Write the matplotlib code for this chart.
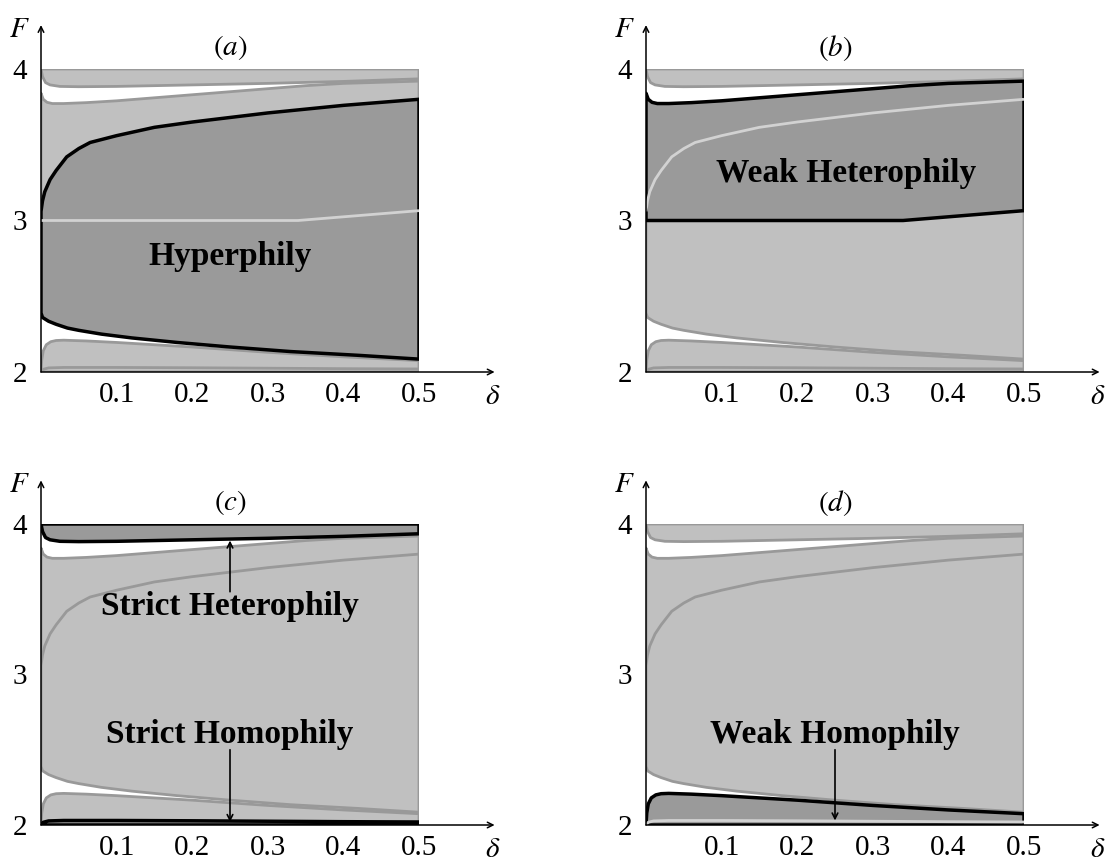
import numpy as np
import matplotlib.pyplot as plt
from matplotlib.patches import Polygon

plt.rcParams['font.family'] = ['Liberation Serif', 'DejaVu Serif']
plt.rcParams['mathtext.fontset'] = 'stix'

# boundary curves, F as a function of delta
delta_A = [0, 0.002, 0.006, 0.012, 0.025, 0.05, 0.1, 0.2, 0.3, 0.4, 0.5]
F_A = [4.0, 3.95, 3.91, 3.895, 3.885, 3.883, 3.885, 3.895, 3.905, 3.918, 3.935]

delta_B = [0, 0.003, 0.008, 0.015, 0.03, 0.06, 0.1, 0.15, 0.2, 0.25, 0.3, 0.35, 0.4, 0.5]
F_B = [3.84, 3.8, 3.78, 3.772, 3.772, 3.778, 3.79, 3.81, 3.83, 3.85, 3.87, 3.89, 3.905, 3.92]

delta_U = [0, 0.002, 0.005, 0.012, 0.02, 0.034, 0.05, 0.065, 0.1, 0.15, 0.2, 0.3, 0.4, 0.5]
F_U = [3.06, 3.13, 3.19, 3.27, 3.33, 3.42, 3.475, 3.515, 3.56, 3.615, 3.65, 3.71, 3.76, 3.8]

delta_W = [0, 0.34, 0.5]
F_W = [3.0, 3.0, 3.065]

delta_L = [0, 0.002, 0.01, 0.02, 0.035, 0.05, 0.08, 0.12, 0.18, 0.25, 0.33, 0.42, 0.5]
F_L = [2.39, 2.36, 2.335, 2.315, 2.29, 2.275, 2.25, 2.225, 2.195, 2.165, 2.135, 2.11, 2.085]

delta_C = [0, 0.001, 0.003, 0.007, 0.013, 0.02, 0.03, 0.06, 0.1, 0.15, 0.2, 0.3, 0.4, 0.5]
F_C = [2.0, 2.08, 2.14, 2.18, 2.2, 2.208, 2.21, 2.205, 2.195, 2.18, 2.165, 2.13, 2.1, 2.075]

delta_S = [0, 0.003, 0.01, 0.03, 0.1, 0.2, 0.3, 0.4, 0.5]
F_S = [2.0, 2.018, 2.027, 2.03, 2.03, 2.028, 2.025, 2.022, 2.02]

delta_edge = [0, 0.5]
F_top = [4, 4]
F_bottom = [2, 2]

x_ticks = [0.1, 0.2, 0.3, 0.4, 0.5]
x_ticklabels = ['0.1', '0.2', '0.3', '0.4', '0.5']
y_ticks = [2, 3, 4]
y_ticklabels = ['2', '3', '4']

LIGHT = '#c0c0c0'
DARK = '#9a9a9a'
EDGE = '#999999'
PALE = '#d2d2d2'

# region -> (upper curve, lower curve)
regions = {
    'whet': ((delta_B, F_B), (delta_W, F_W)),
    'hyper': ((delta_U, F_U), (delta_L, F_L)),
    'shet': ((delta_edge, F_top), (delta_A, F_A)),
    'whom': ((delta_C, F_C), (delta_edge, F_bottom)),
    'shom': ((delta_S, F_S), (delta_edge, F_bottom)),
}
order = ['whet', 'hyper', 'shet', 'whom', 'shom']


def region_xy(name):
    (xu, yu), (xl, yl) = regions[name]
    x = np.concatenate([xu, xl[::-1]])
    y = np.concatenate([yu, yl[::-1]])
    return np.column_stack([x, y])


panels = [
    dict(pos=[41, 69, 372], title='$(a)$', dark=['hyper'], pale=(delta_W, F_W),
         labels=[('Hyperphily', 0.25, 2.76)], arrows=[]),
    dict(pos=[646, 69, 372], title='$(b)$', dark=['whet'], pale=(delta_U, F_U),
         labels=[('Weak Heterophily', 0.265, 3.31)], arrows=[]),
    dict(pos=[41, 524, 825], title='$(c)$', dark=['shet', 'shom'], pale=None,
         labels=[('Strict Heterophily', 0.25, 3.45), ('Strict Homophily', 0.25, 2.6)],
         arrows=[((0.25, 3.55), (0.25, 3.89)), ((0.25, 2.5), (0.25, 2.02))]),
    dict(pos=[646, 524, 825], title='$(d)$', dark=['whom'], pale=(delta_S, F_S),
         labels=[('Weak Homophily', 0.25, 2.6)],
         arrows=[((0.25, 2.5), (0.25, 2.03))]),
]

W, H = 1109, 861
fig = plt.figure(figsize=(W / 100, H / 100), dpi=100)

for p in panels:
    left, top, bottom = p['pos']
    ax = fig.add_axes([left / W, 1 - bottom / H, 378 / W, (bottom - top) / H])
    ax.set_xlim(0, 0.5)
    ax.set_ylim(2, 4)
    for s in ax.spines.values():
        s.set_visible(False)
    ax.patch.set_visible(False)

    for name in order:
        if name in p['dark']:
            continue
        ax.add_patch(Polygon(region_xy(name), closed=True, facecolor=LIGHT,
                             edgecolor=EDGE, lw=2.0, joinstyle='round', zorder=2))
    for name in p['dark']:
        ax.add_patch(Polygon(region_xy(name), closed=True, facecolor=DARK,
                             edgecolor='black', lw=2.5, joinstyle='round', zorder=3))
    if p['pale'] is not None:
        ax.plot(p['pale'][0], p['pale'][1], color=PALE, lw=2.0, zorder=4,
                solid_capstyle='butt')

    # axes with arrows
    ax.annotate('', xy=(0, 4.29), xytext=(0, 2), annotation_clip=False,
                arrowprops=dict(arrowstyle='->', lw=1.1, color='black',
                                shrinkA=0, shrinkB=0), zorder=5)
    ax.annotate('', xy=(0.6, 2), xytext=(0, 2), annotation_clip=False,
                arrowprops=dict(arrowstyle='->', lw=1.1, color='black',
                                shrinkA=0, shrinkB=0), zorder=5)
    ax.text(-0.028, 4.26, '$F$', fontsize=21, ha='center', va='center')
    ax.text(0.598, 1.835, r'$\delta$', fontsize=21, ha='center', va='center')
    ax.text(0.25, 4.14, p['title'], fontsize=21, ha='center', va='center')

    ax.set_xticks(x_ticks)
    ax.set_xticklabels(x_ticklabels)
    ax.set_yticks(y_ticks)
    ax.set_yticklabels(y_ticklabels)
    ax.tick_params(length=0, labelsize=21)
    ax.tick_params(axis='x', pad=7)
    ax.tick_params(axis='y', pad=10)

    for text, x, y in p['labels']:
        ax.text(x, y, text, fontsize=24, fontweight='bold', ha='center',
                va='center', zorder=6)
    for (x0, y0), (x1, y1) in p['arrows']:
        ax.annotate('', xy=(x1, y1), xytext=(x0, y0),
                    arrowprops=dict(arrowstyle='->', lw=1.2, color='black',
                                    shrinkA=0, shrinkB=0), zorder=6)

fig.savefig('out.png', dpi=100)
